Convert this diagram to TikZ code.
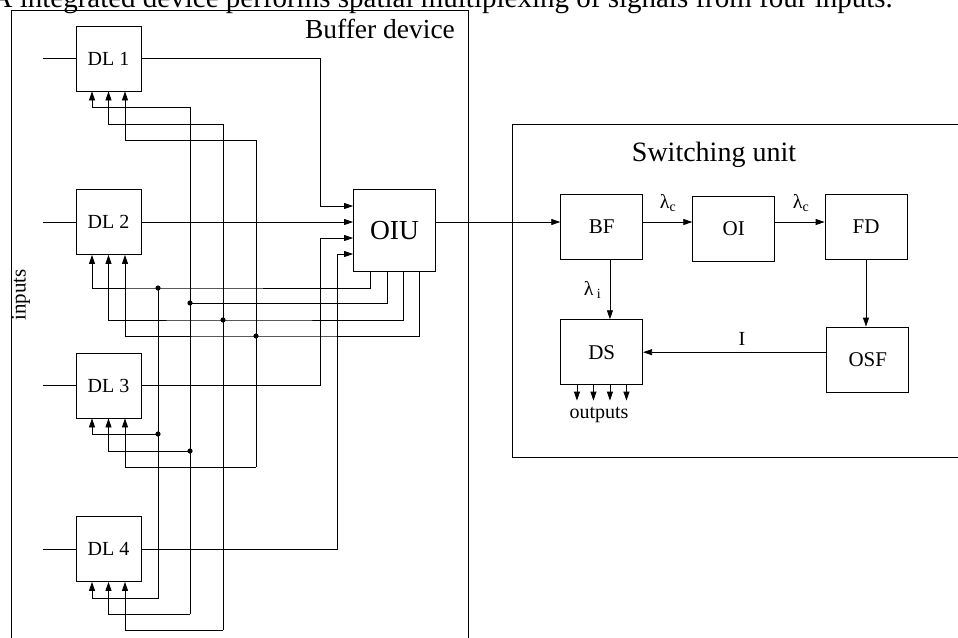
\documentclass[tikz,border=0pt]{standalone}
\usepackage{fontspec}
\setmainfont{Liberation Serif}
\usetikzlibrary{arrows.meta, positioning, calc}

\tikzset{
  blk/.style={draw, line width=0.8pt, minimum width=82pt, minimum height=65pt, inner sep=0pt, font=\fontsize{21}{24}\selectfont},
  dlbox/.style={blk, minimum width=65pt, font=\fontsize{20}{24}\selectfont},
  wire/.style={line width=0.8pt},
  sig/.style={wire, -{Triangle[length=9pt,width=6pt]}},
  lbl/.style={font=\fontsize{20}{24}\selectfont, inner sep=1pt},
}

\begin{document}
\begin{tikzpicture}[x=1pt, y=-1pt]
  \useasboundingbox (0,0) rectangle (958,637);
  \node[anchor=base east, inner sep=0pt, font=\fontsize{29}{32}\selectfont] (cap) at (893,7) {A integrated device performs spatial multiplexing of signals from four inputs.};

  \draw[wire] (11,10) rectangle (468,660);
  \node[anchor=base, font=\fontsize{27.5}{30}\selectfont] (buftitle) at (380,38.3) {Buffer device};

  \foreach \i in {1,...,4} {
    \node[dlbox] (dl\i) at (108.5, {58.5+163.5*(\i-1)}) {DL \i};
    \coordinate (in\i) at ($(dl\i.west)+(-33,0)$);
    \draw[wire] (in\i) -- (dl\i.west);
    \foreach \j/\dx in {1/-16.5, 2/0, 3/16.5}
      \coordinate (c\i\j) at ($(dl\i.south)+(\dx,0)$);
  }
  \node[lbl, rotate=90, font=\fontsize{21}{24}\selectfont] (inp) at (21,295) {inputs};

  \node[blk, minimum size=82pt, font=\fontsize{27.5}{30}\selectfont] (oiu) at (394.5,230.5) {OIU};
  \foreach \k/\dy in {1/-24.5, 2/-8.5, 3/7.5, 4/23.5}
    \coordinate (oin\k) at ($(oiu.west)+(0,\dy)$);
  \foreach \k/\dx in {1/-24.5, 2/-7.5, 3/8.5, 4/24.5}
    \coordinate (oout\k) at ($(oiu.south)+(\dx,0)$);

  \draw[sig] (dl1.east) -| ($(oin1)+(-32.3,0)$) -- (oin1);
  \draw[sig] (dl2.east) -- (oin2);
  \draw[sig] (dl3.east) -| ($(oin3)+(-32.3,0)$) -- (oin3);
  \draw[sig] (dl4.east) -| ($(oin4)+(-15.7,0)$) -- (oin4);

  % control buses
  \coordinate (b1) at (158,288);  \coordinate (b1m) at (158,434); \coordinate (b1e) at (158,598);
  \coordinate (b2t) at (190,107); \coordinate (b2) at (190,303);  \coordinate (b2m) at (190,451); \coordinate (b2e) at (190,614);
  \coordinate (b3t) at (223,124); \coordinate (b3) at (223,320);  \coordinate (b3e) at (223,630);
  \coordinate (b4t) at (256,140); \coordinate (b4) at (256,336);  \coordinate (b4e) at (256,467);

  \draw[sig] (oout1) |- (b1) -| (c21);
  \draw[sig] (b1) -- (b1e) -| (c41);
  \draw[sig] (b1m) -| (c31);

  \draw[wire] (oout2) |- (b2);
  \draw[sig] (b2e) -- (b2t) -| (c11);
  \draw[sig] (b2e) -| (c42);
  \draw[sig] (b2m) -| (c32);

  \draw[sig] (oout3) |- (b3) -| (c22);
  \draw[sig] (b3e) -- (b3t) -| (c12);
  \draw[sig] (b3e) -| (c43);

  \draw[sig] (oout4) |- (b4) -| (c23);
  \draw[sig] (b4e) -- (b4t) -| (c13);
  \draw[sig] (b4e) -| (c33);

  \foreach \p in {b1,b1m,b2,b2m,b3,b4}
    \fill (\p) circle (2.6);

  % switching unit
  \draw[wire] (512,124) rectangle (975,457);
  \node[anchor=base, font=\fontsize{28}{30}\selectfont] (swtitle) at (714,161.7) {Switching unit};

  \node[blk] (bf) at (601.7,226.7) {BF};
  \node[blk] (oi) at (733.7,228.7) {OI};
  \node[blk] (fd) at (866,226.7) {FD};
  \node[blk] (osf) at (867.8,359.5) {OSF};
  \node[blk] (ds) at (601.7,352.2) {DS};

  \coordinate (row) at (0,222);
  \draw[sig] (oiu.east |- row) -- (bf.west |- row);
  \draw[sig] (bf.east |- row) -- (oi.west |- row);
  \draw[sig] (oi.east |- row) -- (fd.west |- row);
  \draw[sig] (fd.south) -- (fd.south |- osf.north);
  \draw[sig] ($(bf.south)+(8.25,0)$) -- ($(ds.north)+(8.25,0)$);
  \draw[sig] (osf.west |- ds) -- (ds.east);
  \foreach \dx in {-24.75,-8.25,8.25,24.75}
    \draw[sig] ($(ds.south)+(\dx,0)$) -- ++(0,15.5);

  \node[lbl] (lc1) at (668,203) {λ\textsubscript{c}};
  \node[lbl] (lc2) at (801,203) {λ\textsubscript{c}};
  \node[lbl] (li) at (592.5,290) {λ\,\textsubscript{i}};
  \node[lbl] (lI) at (742,339) {I};
  \node[lbl] (outp) at (599,414.5) {outputs};
\end{tikzpicture}
\end{document}
